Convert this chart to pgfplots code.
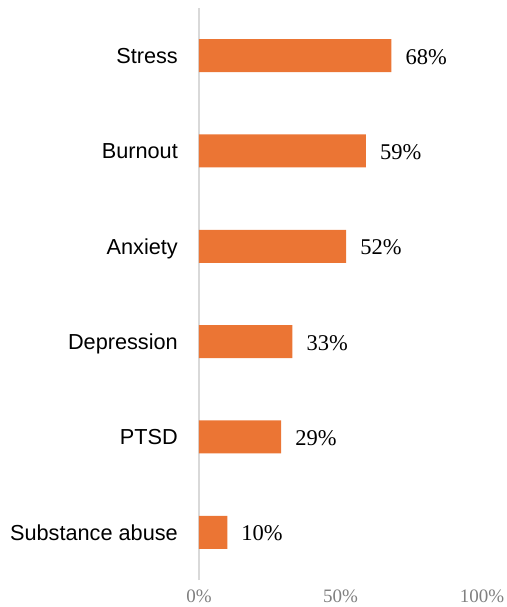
\documentclass[border=0pt]{standalone}
\usepackage{fontspec}
\setmainfont{Liberation Sans}
\newfontfamily\serifnum{Liberation Serif}
\usepackage{pgfplots}
\pgfplotsset{compat=1.18}
\definecolor{barorange}{RGB}{235,117,52}
\definecolor{axisgray}{RGB}{217,217,217}
\definecolor{tickgray}{RGB}{128,128,128}

\begin{document}
\begin{tikzpicture}[x=1pt,y=1pt]
\useasboundingbox (-199,-27) rectangle (307,580);
\begin{axis}[
  at={(0,0)}, anchor=south west,
  scale only axis,
  width=283pt, height=572pt,
  xbar, bar width=33pt,
  xmin=0, xmax=100,
  ymin=-0.5, ymax=5.5,
  ytick={0,1,2,3,4,5},
  yticklabels={Substance abuse, PTSD, Depression, Anxiety, Burnout, Stress},
  xtick={0,50,100},
  xticklabels={0\%,50\%,100\%},
  major tick length=0pt,
  axis y line*=left, axis x line*=bottom,
  x axis line style={draw=none},
  y axis line style={-, draw=axisgray, line width=1.4pt},
  yticklabel style={font=\fontsize{21.7}{24}\selectfont, anchor=east,
    inner sep=0pt, text height=15.5pt, text depth=0pt, xshift=-21pt},
  xticklabel style={font=\serifnum\fontsize{19}{22}\selectfont, text=tickgray,
    anchor=north, inner sep=0pt, yshift=-10pt},
  nodes near coords={\serifnum\fontsize{22.5}{25}\selectfont\pgfmathprintnumber[assume math mode=true]{\pgfplotspointmeta}\%},
  nodes near coords align={horizontal},
  every node near coord/.append style={anchor=west, inner sep=0pt,
    text height=15.2pt, text depth=0pt, xshift=14pt, yshift=-1pt, text=black},
]
\addplot[fill=barorange, draw=none] coordinates {
  (10,0) (29,1) (33,2) (52,3) (59,4) (68,5)
};
\end{axis}
\end{tikzpicture}
\end{document}
